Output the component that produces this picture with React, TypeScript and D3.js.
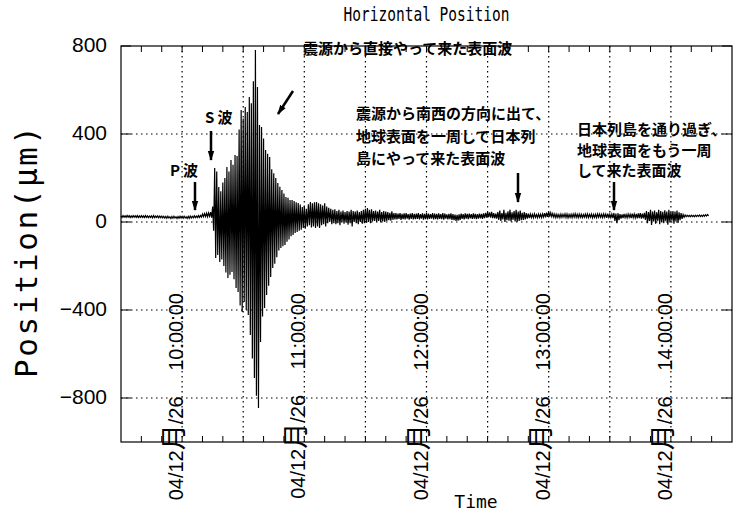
import React from 'react';
import * as d3 from 'd3';

// recording window
const startTime = new Date(2004, 11, 26, 9, 30);
const endTime = new Date(2004, 11, 26, 14, 30);

// one sample per minute from 09:30, upper / lower excursion within that minute (µm)
const traceHi = [
  28, 29, 28, 30, 29, 28, 29, 28, 29, 28,
  29, 28, 29, 28, 27, 28, 29, 27, 28, 27,
  27, 26, 25, 26, 24, 25, 26, 24, 25, 26,
  25, 26, 24, 26, 27, 26, 28, 27, 29, 30,
  36, 38, 40, 41, 45,
  70, 245, 230, 159, 140, 180, 200, 250, 230, 282,
  260, 305, 300, 420, 509, 470, 523, 500, 568, 540,
  640, 782, 614, 441, 432, 380, 327, 310, 295, 240,
  222, 200, 177, 160, 145, 130, 114, 110, 100, 100,
  95, 90, 86, 80, 68, 75, 60, 80, 91, 85,
  90, 91, 85, 80, 75, 85, 70, 65, 60, 55,
  58, 50, 55, 48, 52, 45, 50, 47, 55, 50,
  48, 52, 45, 50, 55, 60, 64, 55, 58, 50,
  52, 48, 55, 45, 50, 47, 45, 42, 48, 41,
  40, 38, 41, 37, 39, 40, 36, 38, 41, 37,
  38, 40, 36, 39, 37, 41, 38, 36, 40, 38,
  37, 39, 36, 40, 38, 35, 37, 39, 36, 34,
  33, 35, 38, 36, 39, 37, 38, 36, 39, 37,
  36, 38, 37, 39, 42, 45, 44, 46, 40, 38,
  45, 52, 40, 55, 42, 48, 56, 44, 50, 55,
  48, 52, 42, 45, 40, 38, 36, 35, 37, 34,
  36, 35, 37, 40, 43, 46, 42, 38, 36, 35,
  34, 36, 35, 37, 36, 34, 35, 36, 38, 35,
  36, 35, 34, 36, 37, 35, 36, 34, 35, 37,
  36, 35, 37, 36, 38, 35, 36, 41, 38, 40,
  36, 35, 37, 34, 36, 35, 38, 36, 37, 39,
  40, 38, 42, 50, 45, 55, 48, 52, 44, 55,
  50, 46, 53, 48, 55, 45, 50, 47, 52, 44,
  40, 34, 32, 31, 30, 31, 30, 31, 30, 32,
  31, 32, 33, 34,
];
const traceLo = [
  21, 22, 21, 22, 20, 21, 22, 21, 20, 21,
  21, 20, 21, 20, 21, 19, 20, 21, 19, 20,
  19, 18, 17, 18, 16, 17, 18, 16, 17, 18,
  17, 18, 16, 17, 18, 19, 20, 20, 21, 22,
  24, 25, 24, 26, 20,
  -40, -164, -150, -182, -170, -200, -230, -255, -240, -227,
  -260, -300, -318, -380, -409, -364, -400, -423, -514, -620,
  -709, -790, -845, -545, -430, -391, -332, -290, -250, -209,
  -190, -160, -130, -118, -110, -105, -90, -80, -65, -59,
  -50, -45, -40, -35, -27, -30, -20, -15, -25, -20,
  -27, -20, -27, -15, -10, -20, -5, 0, -10, -5,
  -10, -5, -15, 0, -8, -2, -12, -5, -20, 0,
  -5, -10, 0, -8, -5, -3, 0, -5, 2, 5,
  0, 5, -2, 3, 0, 5, 8, 6, 10, 12,
  12, 14, 10, 13, 12, 15, 11, 14, 12, 13,
  14, 12, 15, 11, 13, 12, 14, 15, 12, 13,
  12, 14, 13, 11, 15, 12, 13, 10, 8, 5,
  6, 9, 14, 12, 15, 13, 16, 14, 15, 13,
  15, 16, 14, 18, 20, 22, 20, 18, 16, 15,
  10, 5, 12, 0, 8, 6, 2, 10, 3, 0,
  5, 8, 10, 12, 15, 18, 20, 19, 21, 20,
  21, 20, 22, 21, 23, 25, 24, 22, 20, 21,
  20, 21, 22, 20, 19, 21, 20, 22, 21, 20,
  21, 20, 22, 21, 20, 22, 19, 21, 20, 22,
  21, 20, 22, 19, 21, 20, 18, 5, -5, 8,
  15, 18, 20, 19, 21, 18, 20, 19, 17, 18,
  15, 16, 10, -5, 5, -14, 2, -8, 6, -10,
  0, -6, 4, -12, -2, 6, -8, 2, -4, 8,
  14, 22, 24, 25, 24, 25, 24, 25, 26, 25,
  25, 26, 27, 28,
];

const yTicks = [800, 400, 0, -400, -800];
const xLabelHours = [10, 11, 12, 13, 14];
const xTickLabels = [
  '04/12月/26 10:00:00',
  '04/12月/26 11:00:00',
  '04/12月/26 12:00:00',
  '04/12月/26 13:00:00',
  '04/12月/26 14:00:00',
];

const notes = [
  { lines: ['震源から直接やって来た表面波'], x: 303, y: 54, lh: 22 },
  { lines: ['震源から南西の方向に出て、', '地球表面を一周して日本列', '島にやって来た表面波'], x: 356, y: 119, lh: 22.5 },
  { lines: ['日本列島を通り過ぎ、', '地球表面をもう一周', 'して来た表面波'], x: 577, y: 135, lh: 20.5 },
];
const arrows = [
  [293, 91, 278, 114],
  [211, 131, 211, 160],
  [195, 182, 195, 210],
  [518, 173, 518, 202],
  [614, 182, 614, 210],
];

const W = 734;
const H = 511;
const left = 121, right = 732, top = 46, bottom = 442;
const jp = '"Noto Sans CJK JP", sans-serif';
const mono = '"DejaVu Sans Mono", monospace';
const sans = '"Liberation Sans", Arial, sans-serif';

export default function App() {
  const x = d3.scaleTime().domain([startTime, endTime]).range([left, right]);
  const y = d3.scaleLinear().domain([-1000, 800]).range([bottom, top]);

  // zig-zag between the upper and lower excursion of every minute
  const pts: [number, number][] = [];
  traceHi.forEach((hi, i) => {
    const t = startTime.getTime() + i * 60000;
    pts.push([x(new Date(t)), y(hi)]);
    pts.push([x(new Date(t + 30000)), y(traceLo[i])]);
  });
  const line = d3.line();

  const gridTimes = d3.timeMinute.every(30)!.range(startTime, endTime).slice(1);
  const tickTimes = d3.timeMinute.every(10)!.range(startTime, endTime).slice(1);
  const fmt = d3.format('');

  return (
    <svg width={W} height={H} style={{ position: 'absolute', left: 0, top: 0, background: '#fff' }}>
      <defs>
        <marker id="head" markerUnits="userSpaceOnUse" markerWidth="10" markerHeight="10"
          viewBox="0 0 10 10" refX="9" refY="5" orient="auto">
          <path d="M0,1.8 L10,5 L0,8.2 Z" fill="#000" />
        </marker>
      </defs>

      <text x={(left + right) / 2} y={21} textAnchor="middle" fontFamily={mono} fontSize={19}
        textLength={166} lengthAdjust="spacingAndGlyphs">Horizontal Position</text>

      {/* grid */}
      {yTicks.slice(1).map(v => (
        <line key={'gy' + v} x1={left} x2={right} y1={y(v)} y2={y(v)} stroke="#000"
          strokeWidth={1.2} strokeDasharray="1.5 3.5" />
      ))}
      {gridTimes.map(t => (
        <line key={'gx' + t.getTime()} x1={x(t)} x2={x(t)} y1={top} y2={bottom} stroke="#000"
          strokeWidth={1.2} strokeDasharray="1.5 3.5" />
      ))}

      {/* ticks */}
      {tickTimes.map(t => (
        <g key={'t' + t.getTime()}>
          <line x1={x(t)} x2={x(t)} y1={bottom} y2={bottom - 6} stroke="#000" />
          <line x1={x(t)} x2={x(t)} y1={top} y2={top + 6} stroke="#000" />
        </g>
      ))}
      {yTicks.map(v => (
        <g key={'yt' + v}>
          <line x1={left} x2={left + 10} y1={y(v)} y2={y(v)} stroke="#000" />
          <line x1={right} x2={right - 10} y1={y(v)} y2={y(v)} stroke="#000" />
          <text x={107} y={y(v) + 6} textAnchor="end" fontFamily={sans} fontSize={21}>{fmt(v)}</text>
        </g>
      ))}

      {/* trace */}
      <path d={line(pts) || ''} fill="none" stroke="#000" strokeWidth={1.2} />

      <rect x={left} y={top} width={right - left} height={bottom - top} fill="none" stroke="#000" strokeWidth={1.2} />

      {/* x tick labels */}
      {xLabelHours.map((h, i) => {
        const t = new Date(2004, 11, 26, h, 0);
        const [datePart, timePart] = xTickLabels[i].split(' ');
        const [ym, d] = datePart.split('月');
        return (
          <text key={'xl' + h} transform={`translate(${x(t) + 1},293) rotate(-90)`} textAnchor="end"
            fontFamily={sans} fontSize={20}>
            <tspan>{ym}</tspan>
            <tspan fontFamily={jp} fontSize={26}>月</tspan>
            <tspan>{d}</tspan>
            <tspan dx={20}>{' ' + timePart}</tspan>
          </text>
        );
      })}

      <text transform="translate(37,252) rotate(-90)" textAnchor="middle" fontFamily={mono} fontSize={31}
        textLength={252} lengthAdjust="spacing">Position(μm)</text>
      <text x={476} y={508} textAnchor="middle" fontFamily={mono} fontSize={18}>Time</text>

      {/* annotations */}
      {notes.map((n, i) => (
        <text key={'n' + i} fontFamily={jp} fontWeight={700} fontSize={15}>
          {n.lines.map((l, j) => (
            <tspan key={j} x={n.x} y={n.y + j * n.lh}>{l}</tspan>
          ))}
        </text>
      ))}
      <text x={205} y={123} fontFamily={jp} fontWeight={700} fontSize={15}>S<tspan dx={3}>波</tspan></text>
      <text x={170} y={176} fontFamily={jp} fontWeight={700} fontSize={15}>P<tspan dx={3}>波</tspan></text>
      {arrows.map((a, i) => (
        <line key={'a' + i} x1={a[0]} y1={a[1]} x2={a[2]} y2={a[3]} stroke="#000" strokeWidth={2.5}
          markerEnd="url(#head)" />
      ))}
    </svg>
  );
}
